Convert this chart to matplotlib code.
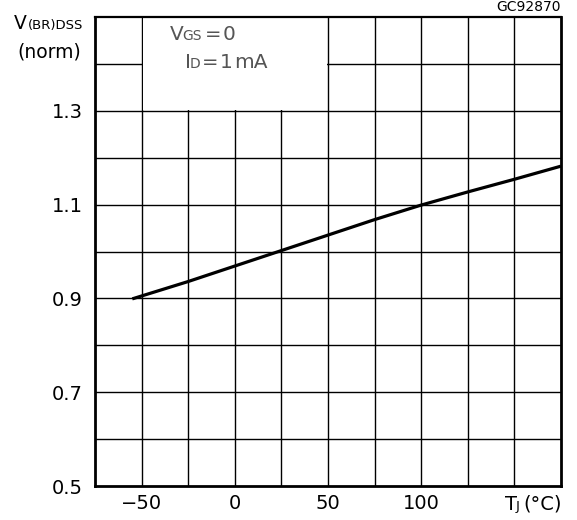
import matplotlib
matplotlib.use("Agg")
import matplotlib.pyplot as plt
from matplotlib.patches import Rectangle

# curve
temp = [-55, -25, 0, 25, 50, 75, 100, 125, 150, 175]
vbr_norm = [0.899, 0.936, 0.969, 1.002, 1.035, 1.068, 1.099, 1.127, 1.154, 1.182]

xgrid = list(range(-75, 176, 25))
ygrid = [0.5 + 0.1 * i for i in range(11)]
xticks = [-50, 0, 50, 100]
yticks = [0.5, 0.7, 0.9, 1.1, 1.3]
ytick_labels = ["0.5", "0.7", "0.9", "1.1", "1.3"]

plt.rcParams["font.family"] = ["DejaVu Sans"]

fig = plt.figure(figsize=(5.77, 5.2), dpi=100)
ax = fig.add_axes([95 / 577, 34 / 520, 466 / 577, 469 / 520])
ax.set_xlim(-75, 175)
ax.set_ylim(0.5, 1.5)

for x in xgrid[1:-1]:
    ax.axvline(x, color="black", lw=1.0, zorder=1)
for y in ygrid[1:-1]:
    ax.axhline(y, color="black", lw=1.0, zorder=1)

# blank area behind the test conditions
ax.add_patch(Rectangle((-49.5, 1.302), 99.0, 0.2, facecolor="white",
                       edgecolor="none", zorder=1.5))

ax.plot(temp, vbr_norm, color="black", lw=2.3, zorder=3, solid_capstyle="butt")

for s in ax.spines.values():
    s.set_linewidth(2.0)
    s.set_zorder(4)
ax.spines["top"].set_linewidth(1.6)

ax.set_xticks(xticks)
ax.set_xticklabels(["\u221250", "0", "50", "100"])
ax.set_yticks(yticks)
ax.set_yticklabels(ytick_labels)
ax.tick_params(length=0, labelsize=14)
ax.tick_params(axis="y", pad=9)
ax.tick_params(axis="x", pad=6)

# test conditions
gray = "#555555"
ax.text(-34.8, 1.45, "V", fontsize=14.5, color=gray, va="baseline")
ax.text(-28.0, 1.45, "GS", fontsize=10, color=gray, va="baseline")
ax.text(-16.3, 1.45, "=", fontsize=14, color=gray, va="baseline")
ax.text(-6.5, 1.45, "0", fontsize=14.5, color=gray, va="baseline")
ax.text(-26.7, 1.392, "I", fontsize=14.5, color=gray, va="baseline")
ax.text(-24.0, 1.392, "D", fontsize=10, color=gray, va="baseline")
ax.text(-17.5, 1.392, "=", fontsize=14, color=gray, va="baseline")
ax.text(-8.0, 1.392, "1", fontsize=14.5, color=gray, va="baseline")
ax.text(-0.5, 1.392, "mA", fontsize=14.5, color=gray, va="baseline")

# axis titles, datasheet style
fig.text(14 / 577, 1 - 29 / 520, "V", fontsize=13.5, va="baseline")
fig.text(28 / 577, 1 - 29 / 520, "(BR)DSS", fontsize=9.5, va="baseline")
fig.text(17 / 577, 1 - 57 / 520, "(norm)", fontsize=13.5, va="baseline")
fig.text(505 / 577, 1 - 510 / 520, "T", fontsize=14, va="baseline")
fig.text(516 / 577, 1 - 510 / 520, "J", fontsize=9.5, va="baseline")
fig.text(523 / 577, 1 - 510 / 520, "(\u00b0C)", fontsize=14, va="baseline")
fig.text(561 / 577, 1 - 11 / 520, "GC92870", fontsize=10, ha="right", va="baseline")

fig.savefig("out.png", dpi=100)
